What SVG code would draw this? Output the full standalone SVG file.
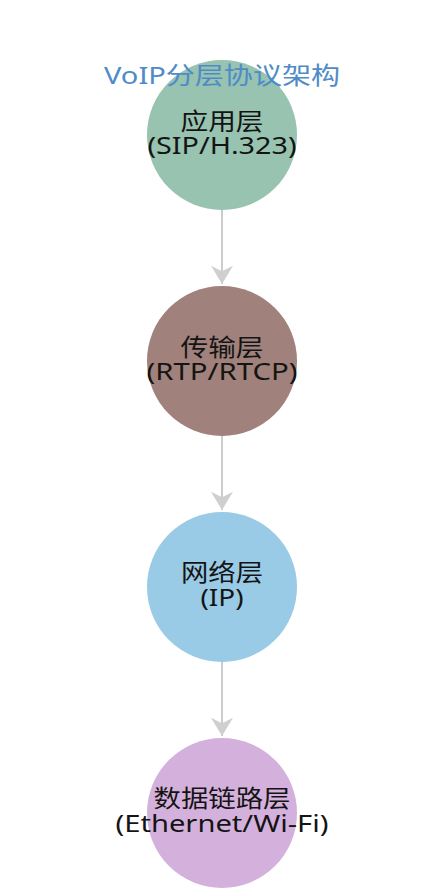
<svg xmlns="http://www.w3.org/2000/svg" width="426" height="894" viewBox="0 0 426 894">
<defs>
<style>
.lbl{font-family:"Noto Sans","Noto Sans CJK SC",sans-serif;font-size:24px;fill:#141414;text-anchor:middle;}
.title{font-family:"Noto Sans","Noto Sans CJK SC",sans-serif;font-size:24px;fill:#4f8cc7;text-anchor:middle;}
.edge{stroke:#cccccc;stroke-width:2;fill:none;}
.head{fill:#cfcfcf;}
</style>
<marker id="arr" markerUnits="userSpaceOnUse" markerWidth="26" markerHeight="22" refX="20" refY="12" orient="auto" viewBox="0 0 22 24">
<path class="head" d="M0,0 L20,12 L0,24 L6,12 Z"/>
</marker>
</defs>
<rect width="426" height="894" fill="#ffffff"/>
<g id="connectors">
<line class="edge" x1="222" y1="210" x2="222" y2="284" marker-end="url(#arr)"/>
<line class="edge" x1="222" y1="436" x2="222" y2="510" marker-end="url(#arr)"/>
<line class="edge" x1="222" y1="662" x2="222" y2="736" marker-end="url(#arr)"/>
</g>
<g id="node-app">
<circle cx="222" cy="135" r="75" fill="#97c3b0"/>
<text class="lbl" x="222" y="130" textLength="83" lengthAdjust="spacingAndGlyphs">应用层</text>
<text class="lbl" x="222" y="154" textLength="149" lengthAdjust="spacingAndGlyphs">(SIP/H.323)</text>
</g>
<g id="node-transport">
<circle cx="222" cy="361" r="75" fill="#a0817b"/>
<text class="lbl" x="222" y="356" textLength="83" lengthAdjust="spacingAndGlyphs">传输层</text>
<text class="lbl" x="222" y="380" textLength="151" lengthAdjust="spacingAndGlyphs">(RTP/RTCP)</text>
</g>
<g id="node-network">
<circle cx="222" cy="587" r="75" fill="#9acbe6"/>
<text class="lbl" x="222" y="581" textLength="82" lengthAdjust="spacingAndGlyphs">网络层</text>
<text class="lbl" x="222" y="606" textLength="43" lengthAdjust="spacingAndGlyphs">(IP)</text>
</g>
<g id="node-link">
<circle cx="222" cy="813" r="75" fill="#d4b1dc"/>
<text class="lbl" x="222" y="807" textLength="137" lengthAdjust="spacingAndGlyphs">数据链路层</text>
<text class="lbl" x="222" y="832" textLength="213" lengthAdjust="spacingAndGlyphs">(Ethernet/Wi-Fi)</text>
</g>
<g id="title">
<text class="title" x="222" y="84" textLength="236" lengthAdjust="spacingAndGlyphs">VoIP分层协议架构</text>
</g>
</svg>
